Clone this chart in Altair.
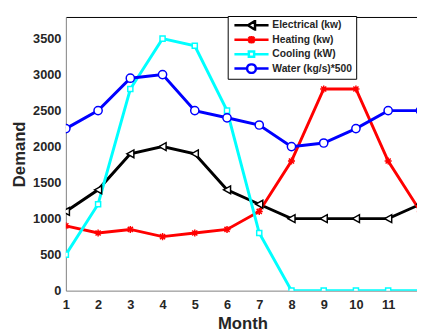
import altair as alt
import pandas as pd

months = list(range(1, 13))
series_names = ["Electrical (kw)", "Heating (kw)", "Cooling (kW)", "Water (kg/s)*500"]
electrical = [1100, 1400, 1900, 2000, 1900, 1400, 1200, 1000, 1000, 1000, 1000, 1200]
heating = [900, 800, 850, 750, 800, 850, 1100, 1800, 2800, 2800, 1800, 1100]
cooling = [500, 1200, 2800, 3500, 3400, 2500, 800, 0, 0, 0, 0, 0]
water = [2250, 2500, 2950, 3000, 2500, 2400, 2300, 2000, 2050, 2250, 2500, 2500]
series_colors = ["#000000", "#ff0000", "#00ffff", "#0000ff"]
y_ticks = [0, 500, 1000, 1500, 2000, 2500, 3000, 3500]

rows = []
for name, vals in zip(series_names, [electrical, heating, cooling, water]):
    for m, v in zip(months, vals):
        rows.append({"month": m, "series": name, "demand": v})
df = pd.DataFrame(rows)

marker_paths = [
    "M-0.9,0L0.9,-1L0.9,1Z",
    "M-0.9,0H0.9M0,-0.9V0.9M-0.65,-0.65L0.65,0.65M-0.65,0.65L0.65,-0.65",
    "M-0.65,-0.65H0.65V0.65H-0.65Z",
    "M1.05,0A1.05,1.05 0 1,1 -1.05,0A1.05,1.05 0 1,1 1.05,0Z",
]
# legend symbols: line plus marker, in units of symbol radius 3px
legend_paths = [
    "M-5.8,0H-1.2M1.2,0H5.8M-1.2,0L1.2,-1.5L1.2,1.5Z",
    "M-5.8,0H5.8M0,-1.3V1.3M-1,-1L1,1M-1,1L1,-1",
    "M-5.8,0H-0.9M0.9,0H5.8M-0.9,-0.9H0.9V0.9H-0.9Z",
    "M-5.8,0H-1.5M1.5,0H5.8M1.5,0A1.5,1.5 0 1,1 -1.5,0A1.5,1.5 0 1,1 1.5,0Z",
]
expr = "'" + legend_paths[-1] + "'"
for name, p in reversed(list(zip(series_names[:-1], legend_paths[:-1]))):
    expr = f"datum.value === '{name}' ? '{p}' : " + expr

# marker scales use a differently ordered domain so their (hidden) legends stay separate
order = sorted(range(len(series_names)), key=lambda i: series_names[i])
marker_domain = [series_names[i] for i in order]
marker_colors = [series_colors[i] for i in order]
marker_shapes = [marker_paths[i] for i in order]

FONT = "Liberation Sans"
TXT = "#262626"
W, H = 358, 279
xmax = 1 + (425 - 67) / 32.86

x_scale = alt.Scale(domain=[1, xmax], nice=False, zero=False)
y_scale = alt.Scale(domain=[0, 3800], nice=False)

x_bottom = alt.X(
    "month:Q", scale=x_scale,
    axis=alt.Axis(values=months, format="d", tickSize=0, labelPadding=8, grid=False,
                  labelFlush=False, labelOverlap=False, labelFont=FONT, labelFontSize=13,
                  labelFontWeight="bold", labelColor=TXT, domainColor="#808080",
                  title="Month", titleFont=FONT, titleFontSize=17, titleFontWeight="bold",
                  titleColor=TXT, titleX=180, titleY=38.7, titleBaseline="alphabetic"),
)
x_top = alt.X(
    "month:Q", scale=x_scale,
    axis=alt.Axis(orient="top", labels=False, ticks=False, grid=False, title=None,
                  domainColor="#000000"),
)
y_axis = alt.Axis(values=y_ticks, format="d", tickSize=0, labelPadding=5, grid=False,
                  labelOverlap=False, labelFlush=False,
                  labelFont=FONT, labelFontSize=13, labelFontWeight="bold", labelColor=TXT,
                  domainColor="#808080",
                  title="Demand", titleFont=FONT, titleFontSize=17, titleFontWeight="bold",
                  titleColor=TXT, titleX=-42, titleY=H / 2, titleAngle=-90,
                  titleBaseline="alphabetic", titleAlign="center")

legend = alt.Legend(
    title=None, orient="none", legendX=165, legendY=-1,
    strokeColor="black", fillColor="white", padding=4, rowPadding=3.7, clipHeight=11,
    symbolSize=36, symbolOffset=15, labelOffset=16, symbolStrokeWidth=2.5,
    symbolFillColor="white", symbolType={"expr": expr},
    labelFont=FONT, labelFontSize=10.5, labelFontWeight="bold", labelColor=TXT,
)

lines = alt.Chart(df).mark_line(strokeWidth=3, clip=True).encode(
    x=x_bottom,
    y=alt.Y("demand:Q", scale=y_scale, axis=y_axis),
    color=alt.Color("series:N", scale=alt.Scale(domain=series_names, range=series_colors),
                    legend=legend),
    order=alt.Order("month:Q"),
)

points = alt.Chart(df).mark_point(filled=True, fill="white", fillOpacity=1, opacity=1,
                                  strokeWidth=1.5, size=64, clip=True).encode(
    x=x_top,
    y=alt.Y("demand:Q", scale=y_scale, axis=y_axis),
    stroke=alt.Stroke("series:N", scale=alt.Scale(domain=marker_domain, range=marker_colors),
                      legend=None),
    shape=alt.Shape("series:N", scale=alt.Scale(domain=marker_domain, range=marker_shapes),
                    legend=None),
)

chart = alt.layer(lines, points).resolve_axis(x="independent").properties(
    width=W, height=H,
    autosize=alt.AutoSizeParams(type="none"),
    padding={"left": 59, "top": 6, "right": 0, "bottom": 39},
    background="white",
).configure_view(stroke=None)

chart.save("out.html", embed_options={"renderer": "svg", "actions": False})
